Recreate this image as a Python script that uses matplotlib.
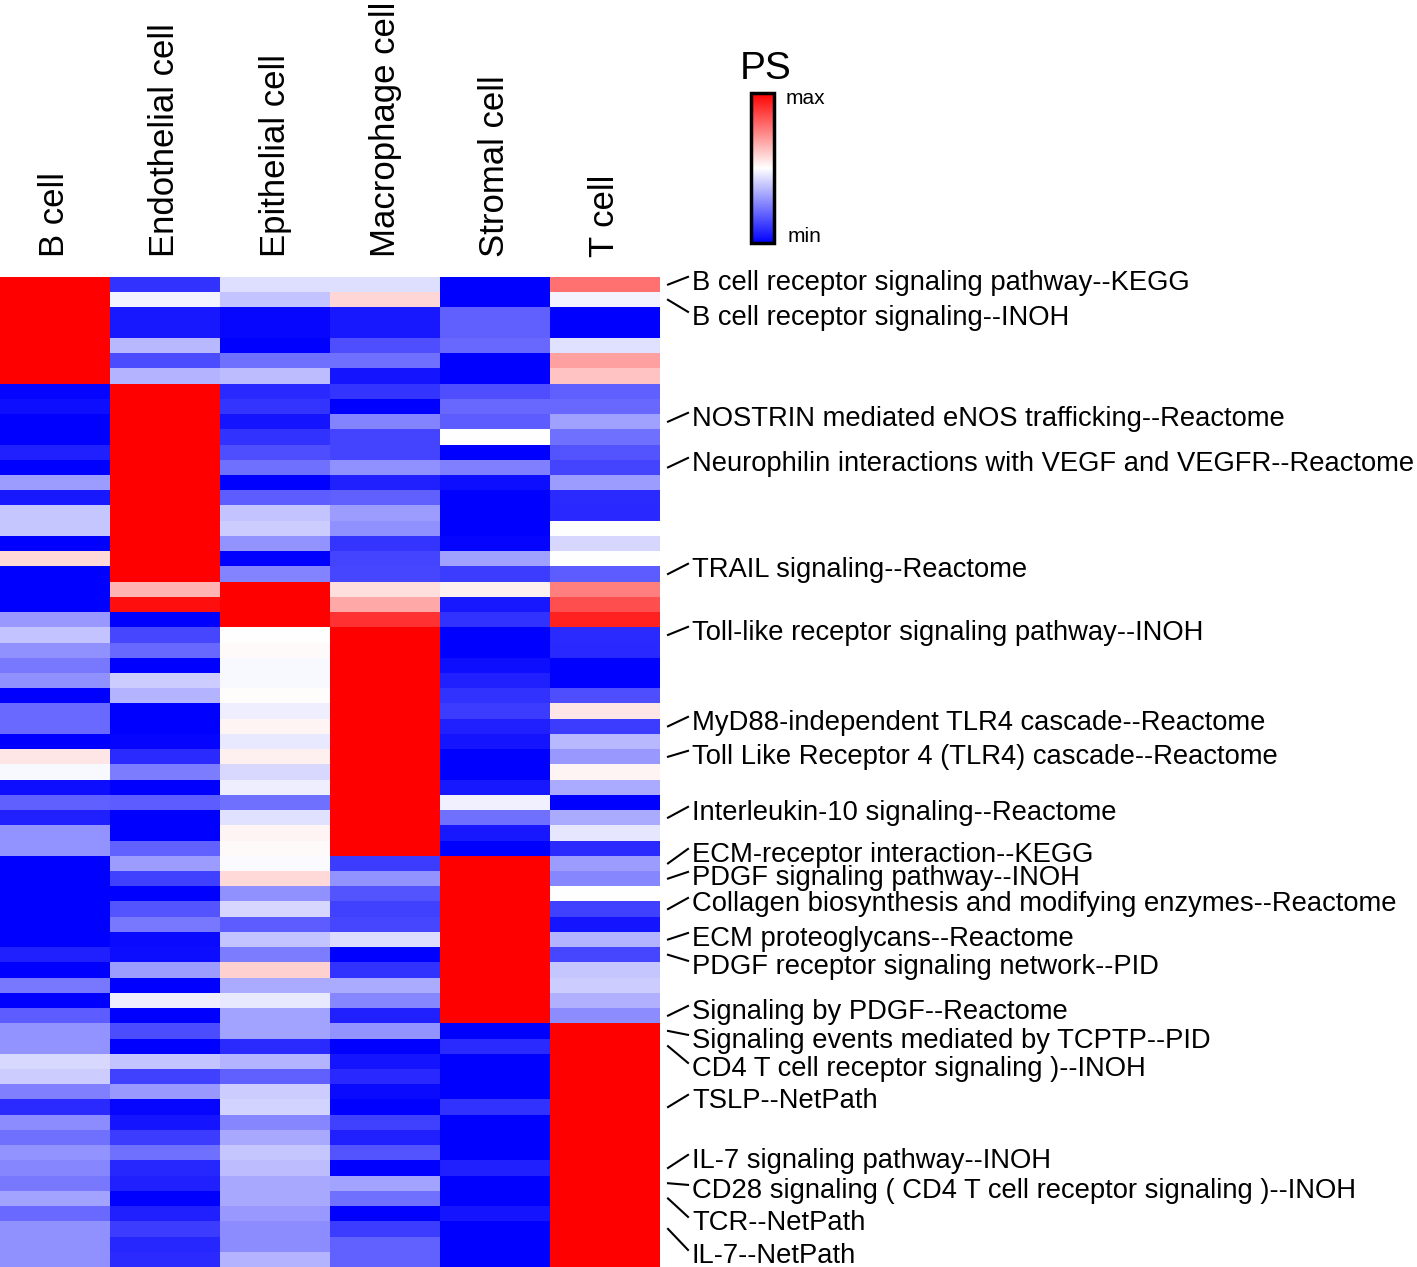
import numpy as np
import matplotlib
matplotlib.use('Agg')
import matplotlib.pyplot as plt

plt.rcParams['font.family'] = ['Liberation Sans', 'DejaVu Sans']

# cell types (columns)
cell_types = ['B cell', 'Endothelial cell', 'Epithelial cell',
              'Macrophage cell', 'Stromal cell', 'T cell']

# scaled PS values per pathway row (-1 = min, 1 = max)
b_cell = [1, 1, 1, 1, 1, 1, 1,
          -0.98, -0.94, -1, -1, -0.87, -1, -0.39, -0.9, -0.22, -0.22, -1, 0.15, -1,
          -1, -1, -0.4,
          -0.23, -0.43, -0.53, -0.43, -1, -0.58, -0.58, -1, 0.1, -0.03, -0.94, -0.62, -0.87, -0.42, -0.42,
          -1, -1, -1, -1, -1, -1, -0.87, -1, -0.53, -1, -0.64,
          -0.42, -0.42, -0.15, -0.2, -0.5, -0.83, -0.45, -0.56, -0.42, -0.47, -0.53, -0.36, -0.58, -0.43, -0.43, -0.43]
endothelial = [-0.8, -0.04, -0.9, -0.9, -0.28, -0.7, -0.29,
               1, 1, 1, 1, 1, 1, 1, 1, 1, 1, 1, 1, 1,
               0.29, 0.94, -1,
               -0.72, -0.59, -1, -0.2, -0.29, -1, -1, -0.98, -0.83, -0.51, -1, -0.64, -1, -1, -0.61,
               -0.39, -0.75, -1, -0.67, -0.53, -0.96, -0.95, -0.39, -1, -0.07, -1,
               -0.7, -1, -0.23, -0.75, -0.4, -0.97, -0.92, -0.76, -0.56, -0.85, -0.87, -1, -0.87, -0.76, -0.85, -0.83]
epithelial = [-0.13, -0.23, -0.97, -0.97, -1, -0.56, -0.26,
              -0.84, -0.79, -0.92, -0.8, -0.69, -0.56, -1, -0.64, -0.23, -0.2, -0.42, -1, -0.48,
              1, 1, 1,
              0.0, 0.02, -0.03, -0.03, 0.01, -0.07, 0.04, -0.09, 0.06, -0.15, -0.07, -0.56, -0.12, 0.04, 0.02,
              -0.02, 0.15, -0.43, -0.16, -0.64, -0.23, -0.51, 0.18, -0.33, -0.09, -0.36,
              -0.36, -0.83, -0.29, -0.62, -0.2, -0.17, -0.47, -0.34, -0.22, -0.26, -0.34, -0.34, -0.4, -0.45, -0.45, -0.29]
macrophage = [-0.13, 0.16, -0.9, -0.9, -0.69, -0.56, -0.92,
              -0.79, -1, -0.48, -0.73, -0.73, -0.43, -0.87, -0.62, -0.39, -0.43, -0.79, -0.73, -0.72,
              0.13, 0.34, 0.8,
              1, 1, 1, 1, 1, 1, 1, 1, 1, 1, 1, 1, 1, 1, 1,
              -0.76, -0.42, -0.67, -0.75, -0.72, -0.14, -1, -0.8, -0.33, -0.47, -0.87,
              -0.42, -1, -0.92, -0.84, -0.96, -1, -0.75, -0.87, -0.67, -1, -0.36, -0.56, -1, -0.76, -0.61, -0.61]
stromal = [-1, -1, -0.62, -0.62, -0.59, -1, -1,
           -0.69, -0.59, -0.64, 0.0, -1, -0.5, -0.94, -1, -1, -1, -0.98, -0.37, -0.76,
           0.06, -0.9, -0.8,
           -1, -1, -0.94, -0.87, -0.8, -0.76, -0.87, -0.92, -1, -1, -0.9, -0.06, -0.56, -0.9, -1,
           1, 1, 1, 1, 1, 1, 1, 1, 1, 1, 1,
           -1, -0.83, -1, -1, -1, -0.8, -1, -1, -1, -0.87, -1, -1, -0.92, -1, -1, -1]
t_cell = [0.56, -0.04, -1, -1, -0.12, 0.37, 0.23,
          -0.62, -0.59, -0.37, -0.56, -0.67, -0.73, -0.39, -0.83, -0.84, 0.0, -0.16, 0.0, -0.64,
          0.5, 0.69, 0.87,
          -0.83, -0.84, -1, -1, -0.69, 0.1, -0.76, -0.28, -0.4, 0.04, -0.33, -1, -0.33, -0.1, -0.83,
          -0.39, -0.47, 0.0, -0.75, -0.92, -0.29, -0.72, -0.22, -0.2, -0.31, -0.45,
          1, 1, 1, 1, 1, 1, 1, 1, 1, 1, 1, 1, 1, 1, 1, 1]

# highlighted pathways: label, row it points to, text position (in rows)
pathways = ['B cell receptor signaling pathway--KEGG',
            'B cell receptor signaling--INOH',
            'NOSTRIN mediated eNOS trafficking--Reactome',
            'Neurophilin interactions with VEGF and VEGFR--Reactome',
            'TRAIL signaling--Reactome',
            'Toll-like receptor signaling pathway--INOH',
            'MyD88-independent TLR4 cascade--Reactome',
            'Toll Like Receptor 4 (TLR4) cascade--Reactome',
            'Interleukin-10 signaling--Reactome',
            'ECM-receptor interaction--KEGG',
            'PDGF signaling pathway--INOH',
            'Collagen biosynthesis and modifying enzymes--Reactome',
            'ECM proteoglycans--Reactome',
            'PDGF receptor signaling network--PID',
            'Signaling by PDGF--Reactome',
            'Signaling events mediated by TCPTP--PID',
            'CD4 T cell receptor signaling )--INOH',
            'TSLP--NetPath',
            'IL-7 signaling pathway--INOH',
            'CD28 signaling ( CD4 T cell receptor signaling )--INOH',
            'TCR--NetPath',
            'IL-7--NetPath']
pathway_rows = [0, 1, 9, 12, 19, 23, 29, 31, 35, 38, 39, 41, 43, 44, 48,
                49, 50, 54, 58, 59, 60, 62]
text_rows = [-0.11, 2.19, 8.82, 11.78, 18.73, 22.87, 28.78, 31.01, 34.69, 37.45,
             38.96, 40.67, 42.97, 44.8, 47.76, 49.66, 51.5, 53.6, 57.54,
             59.51, 61.61, 63.78]

data = np.column_stack([b_cell, endothelial, epithelial, macrophage, stromal, t_cell])
n_rows = data.shape[0]

W, H = 1417, 1267
fig = plt.figure(figsize=(W / 100, H / 100), dpi=100)
ax = fig.add_axes([0, 0, 660 / W, 990 / H])
ax.imshow(data, cmap='bwr', vmin=-1, vmax=1, aspect='auto', interpolation='nearest')
ax.set_xlim(-0.5, 5.5)
ax.set_ylim(n_rows - 0.5, -0.5)
ax.axis('off')

# column labels
for j, name in enumerate(cell_types):
    ax.annotate(name, xy=(j, -0.5), xytext=(0, 20), textcoords='offset pixels',
                rotation=90, ha='center', va='bottom', fontsize=25)

# row labels with leader lines
x0 = 5.5 + 8 / 110
x1 = 5.5 + 28 / 110
xt = 5.5 + 32 / 110
for name, r, ty in zip(pathways, pathway_rows, text_rows):
    ax.plot([x0, x1], [r, ty - 0.4], color='black', lw=1.5, clip_on=False)
    ax.text(xt, ty, name, ha='left', va='center', fontsize=19.7, clip_on=False)

# colour key
cax = fig.add_axes([751 / W, (H - 243) / H, 23 / W, 150 / H])
sm = matplotlib.cm.ScalarMappable(cmap='bwr', norm=plt.Normalize(-1, 1))
cb = fig.colorbar(sm, cax=cax, ticks=[])
cb.outline.set_linewidth(2.5)
fig.text(766 / W, 1 - 69 / H, 'PS', ha='center', va='center', fontsize=28)
fig.text(786 / W, 1 - 99 / H, 'max', ha='left', va='center', fontsize=15)
fig.text(788 / W, 1 - 237 / H, 'min', ha='left', va='center', fontsize=15)

fig.savefig('out.png', dpi=100)
